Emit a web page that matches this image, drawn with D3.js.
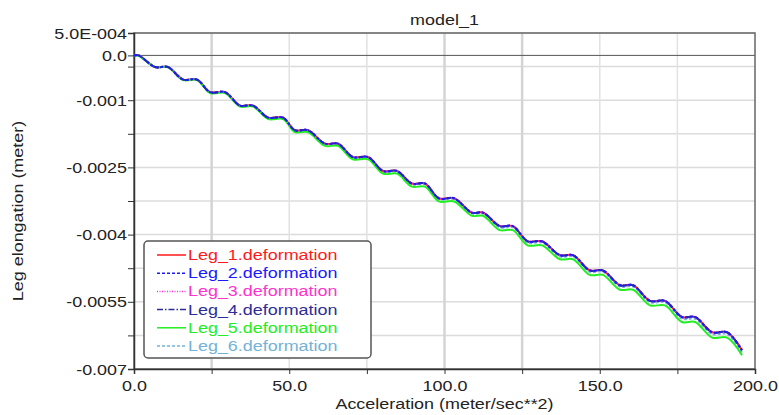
<!DOCTYPE html>
<html>
<head>
<meta charset="utf-8">
<script src="https://cdn.jsdelivr.net/npm/d3@7"></script>
<style>
  html, body { margin: 0; padding: 0; background: #fff; }
  svg text { font-family: "Liberation Sans", Arial, sans-serif; }
</style>
</head>
<body>
<div id="chart"></div>
<script>
//////////////////
// Data
//////////////////

// acceleration values where the curve was read (plateau start / end pairs)
var accel = [0, 1.5, 6.8, 10.9, 15.8, 20.3, 24.5, 29.3, 34.1, 38.3, 43.2, 48.0,
    51.8, 56.0, 61.5, 65.7, 70.5, 75.4, 80.2, 84.7, 89.5, 93.7, 98.2, 103.1,
    108.8, 112.4, 117.8, 122.0, 126.8, 131.4, 137.2, 141.4, 146.8, 151.0,
    156.5, 160.7, 166.2, 171.0, 176.5, 180.7, 186.2, 191.0, 195.8];

// Leg_1 .. Leg_4 sit on top of each other
var legTop = [0, 0, -0.00026, -0.00026, -0.00054, -0.00054, -0.00082, -0.00082,
    -0.00112, -0.00112, -0.00139, -0.00139, -0.00167, -0.00167, -0.00197, -0.00197,
    -0.00227, -0.00227, -0.00258, -0.00258, -0.00286, -0.00286, -0.00319, -0.00319,
    -0.00351, -0.00351, -0.00381, -0.00381, -0.00415, -0.00415, -0.00446, -0.00446,
    -0.0048, -0.0048, -0.00513, -0.00513, -0.00548, -0.00548, -0.00584, -0.00584,
    -0.00618, -0.00618, -0.00658];

// Leg_6 a hair lower
var legMid = [0, 0, -0.00026, -0.00026, -0.00054, -0.00054, -0.00083, -0.00083,
    -0.00112, -0.00112, -0.0014, -0.0014, -0.00168, -0.00168, -0.00198, -0.00198,
    -0.00228, -0.00228, -0.0026, -0.0026, -0.00288, -0.00288, -0.00321, -0.00321,
    -0.00353, -0.00353, -0.00384, -0.00384, -0.00418, -0.00418, -0.00449, -0.00449,
    -0.00483, -0.00483, -0.00516, -0.00516, -0.00551, -0.00551, -0.00588, -0.00588,
    -0.00622, -0.00622, -0.00663];

// Leg_5 (green) drifts lowest
var legLow = [0, -0.00001, -0.00026, -0.00026, -0.00055, -0.00055, -0.00084, -0.00084,
    -0.00114, -0.00114, -0.00142, -0.00142, -0.00171, -0.00171, -0.00202, -0.00202,
    -0.00232, -0.00232, -0.00264, -0.00264, -0.00293, -0.00293, -0.00326, -0.00326,
    -0.00358, -0.00358, -0.0039, -0.0039, -0.00424, -0.00424, -0.00455, -0.00455,
    -0.0049, -0.0049, -0.00523, -0.00523, -0.00558, -0.00558, -0.00595, -0.00595,
    -0.0063, -0.0063, -0.00669];

var legNames = ["Leg_1.deformation", "Leg_2.deformation", "Leg_3.deformation",
    "Leg_4.deformation", "Leg_5.deformation", "Leg_6.deformation"];
var legValues = [legTop, legTop, legTop, legTop, legLow, legMid];
var legColors = ["#ff1a1a", "#1a1aff", "#ff33cc", "#2d2d99", "#22ee22", "#74b2d8"];
var legDash = [null, "3,2", "1,1.5", "6,2,1.5,2", null, "3,2"];

var yTicks = [0.0005, 0, -0.001, -0.0025, -0.004, -0.0055, -0.007];
var yTickLabels = ["5.0E-004", "0.0", "-0.001", "-0.0025", "-0.004", "-0.0055", "-0.007"];
var yGrid = [0.0005, -0.00025, -0.001, -0.00175, -0.0025, -0.00325, -0.004,
    -0.00475, -0.0055, -0.00625, -0.007];
var xTicks = [0, 50, 100, 150, 200];
var xTickLabels = ["0.0", "50.0", "100.0", "150.0", "200.0"];
var xMinor = [25, 75, 125, 175];

//////////////////
// Layout
//////////////////

var width = 779, height = 415;
var plot = { left: 134, right: 755, top: 33, bottom: 369 };

var svg = d3.select("#chart").append("svg")
    .attr("width", width)
    .attr("height", height);

svg.append("rect").attr("width", width).attr("height", height).attr("fill", "#fff");

var x = d3.scaleLinear().domain([0, 200]).range([plot.left, plot.right]);
var y = d3.scaleLinear().domain([-0.007, 0.0005]).range([plot.bottom, plot.top]);

// grid
var grid = svg.append("g");
grid.selectAll(".hg").data(yGrid).enter().append("line")
    .attr("x1", plot.left).attr("x2", plot.right)
    .attr("y1", function(d) { return y(d); })
    .attr("y2", function(d) { return y(d); })
    .attr("stroke", "#dcdcdc").attr("stroke-width", 1.5);

grid.selectAll(".vg").data(xMinor.concat([50, 100, 150])).enter().append("line")
    .attr("x1", function(d) { return x(d); })
    .attr("x2", function(d) { return x(d); })
    .attr("y1", plot.top).attr("y2", plot.bottom)
    .attr("stroke", function(d) { return (d == 25 || d == 125 || d == 100) ? "#d4d4d4" : "#e2e2e2"; })
    .attr("stroke-width", function(d) { return (d == 25 || d == 125 || d == 100) ? 2.5 : 1.5; });

// zero line
svg.append("line")
    .attr("x1", plot.left).attr("x2", plot.right)
    .attr("y1", y(0)).attr("y2", y(0))
    .attr("stroke", "#555").attr("stroke-width", 1);

// frame
svg.append("rect")
    .attr("x", plot.left).attr("y", plot.top)
    .attr("width", plot.right - plot.left).attr("height", plot.bottom - plot.top)
    .attr("fill", "none").attr("stroke", "#666").attr("stroke-width", 1.5);

//////////////////
// Axes
//////////////////

var yAxis = d3.axisLeft(y)
    .tickValues(yGrid.concat([0]))
    .tickSize(6)
    .tickFormat(function(d) {
        var i = yTicks.indexOf(d);
        return i < 0 ? "" : yTickLabels[i];
    });

var gy = svg.append("g")
    .attr("transform", "translate(" + plot.left + ",0)")
    .call(yAxis);

var xAxis = d3.axisBottom(x)
    .tickValues(xTicks.concat(xMinor))
    .tickSize(5)
    .tickFormat(function(d) {
        var i = xTicks.indexOf(d);
        return i < 0 ? "" : xTickLabels[i];
    });

var gx = svg.append("g")
    .attr("transform", "translate(0," + plot.bottom + ")")
    .call(xAxis);

[gx, gy].forEach(function(g) {
    g.select(".domain").attr("stroke", "#333").attr("stroke-width", 1.5);
    g.selectAll(".tick line").attr("stroke", "#333");
    g.selectAll(".tick text").attr("fill", "#222").style("font-size", "14px");
});
gy.selectAll(".tick text").attr("x", -7).attr("dy", "0.36em");
gx.selectAll(".tick text").attr("y", 9).attr("dy", "0.9em");

// titles
svg.append("text")
    .attr("x", (plot.left + plot.right) / 2).attr("y", 25)
    .attr("text-anchor", "middle").style("font-size", "14px").attr("fill", "#222")
    .text("model_1");

svg.append("text")
    .attr("x", (plot.left + plot.right) / 2).attr("y", 409)
    .attr("text-anchor", "middle").style("font-size", "14px").attr("fill", "#222")
    .text("Acceleration (meter/sec**2)");

svg.append("text")
    .attr("transform", "translate(23," + ((plot.top + plot.bottom) / 2 + 10) + ") rotate(-90)")
    .attr("text-anchor", "middle").style("font-size", "14px").attr("fill", "#222")
    .text("Leg elongation (meter)");

//////////////////
// Curves
//////////////////

var line = d3.line()
    .x(function(d) { return x(d[0]); })
    .y(function(d) { return y(d[1]); })
    .curve(d3.curveCatmullRom.alpha(0.5));

// blue dashes end up on top, like the original
var order = [0, 2, 5, 4, 3, 1];
order.forEach(function(k) {
    var pts = accel.map(function(a, i) { return [a, legValues[k][i]]; });
    svg.append("path")
        .datum(pts)
        .attr("d", line)
        .attr("fill", "none")
        .attr("stroke", legColors[k])
        .attr("stroke-width", 2)
        .attr("stroke-dasharray", legDash[k]);
});

//////////////////
// Legend
//////////////////

var legend = svg.append("g").attr("transform", "translate(144,241)");

legend.append("rect")
    .attr("width", 227).attr("height", 117)
    .attr("rx", 4).attr("ry", 4)
    .attr("fill", "#fff").attr("stroke", "#555").attr("stroke-width", 1.5);

var rows = legend.selectAll(".row").data(legNames).enter().append("g")
    .attr("transform", function(d, i) { return "translate(0," + (14 + i * 18.2) + ")"; });

rows.append("line")
    .attr("x1", 13).attr("x2", 42)
    .attr("stroke", function(d, i) { return legColors[i]; })
    .attr("stroke-width", 1.5)
    .attr("stroke-dasharray", function(d, i) { return legDash[i]; });

rows.append("text")
    .attr("x", 44).attr("dy", "0.36em")
    .style("font-size", "14px")
    .attr("fill", function(d, i) { return legColors[i]; })
    .text(function(d) { return d; });

// the original text is drawn wide, stretch all labels a bit
svg.selectAll("text").each(function() {
    var w = this.getComputedTextLength();
    if (w > 0) {
        this.setAttribute("textLength", w * 1.28);
        this.setAttribute("lengthAdjust", "spacingAndGlyphs");
    }
});
</script>
</body>
</html>
